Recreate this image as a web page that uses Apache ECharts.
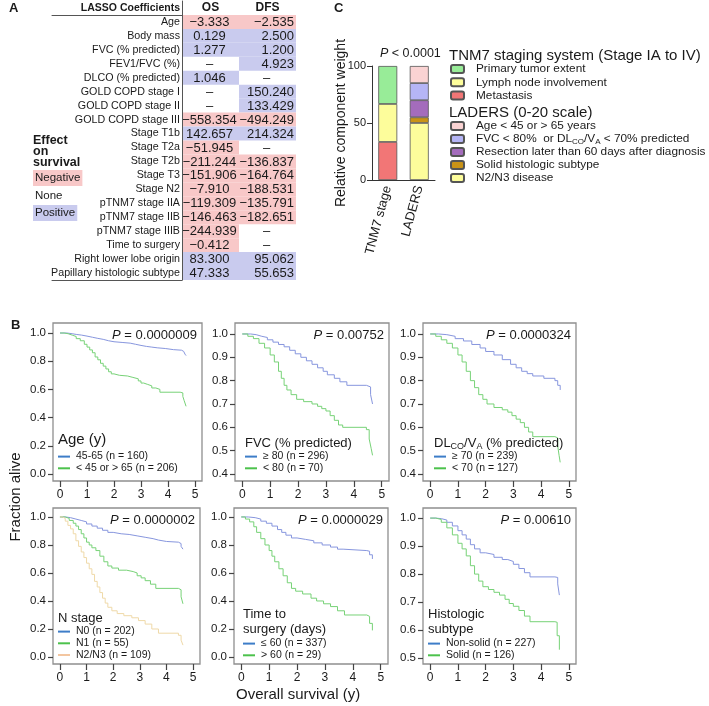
<!DOCTYPE html>
<html><head><meta charset="utf-8">
<script src="https://cdn.jsdelivr.net/npm/echarts@6/dist/echarts.min.js"></script>
<style>html,body{margin:0;padding:0;background:#fff}#c{width:709px;height:706px}</style>
</head><body><div id="c"></div>
<script>
// ===== Panel A data =====
const rowNames = ['Age','Body mass','FVC (% predicted)','FEV1/FVC (%)','DLCO (% predicted)','GOLD COPD stage I','GOLD COPD stage II','GOLD COPD stage III','Stage T1b','Stage T2a','Stage T2b','Stage T3','Stage N2','pTNM7 stage IIA','pTNM7 stage IIB','pTNM7 stage IIIB','Time to surgery','Right lower lobe origin','Papillary histologic subtype'];
const coefColumns = ['OS','DFS'];
const osCoef = [-3.333,0.129,1.277,null,1.046,null,null,-558.354,142.657,-51.945,-211.244,-151.906,-7.910,-119.309,-146.463,-244.939,-0.412,83.300,47.333];
const dfsCoef = [-2.535,2.500,1.200,4.923,null,150.240,133.429,-494.249,214.324,null,-136.837,-164.764,-188.531,-135.791,-182.651,null,null,95.062,55.653];

// ===== Panel C data =====
const stagingSystems = ['TNM7 stage','LADERS'];
const tnmComponents = ['Primary tumor extent','Lymph node involvement','Metastasis'];
const tnmWeights = [33.3,33.3,33.4];
const ladersComponents = ['Age < 45 or > 65 years','FVC < 80%  or DLCO/VA < 70% predicted','Resection later than 60 days after diagnosis','Solid histologic subtype','N2/N3 disease'];
const ladersWeights = [15,15,15,5,50];

// ===== Panel B data (Kaplan-Meier steps: [years, fraction alive]) =====
const ageBlue = [[0,1],[0.25,0.995],[0.45,0.99],[0.6,0.985],[0.8,0.978],[1.0,0.97],[1.2,0.962],[1.4,0.955],[1.6,0.945],[1.8,0.938],[2.0,0.933],[2.3,0.928],[2.6,0.92],[2.8,0.912],[3.0,0.905],[3.2,0.9],[3.4,0.895],[3.6,0.89],[3.9,0.882],[4.2,0.878],[4.5,0.87],[4.58,0.86],[4.63,0.85],[4.67,0.84]];
const ageGreen = [[0,1],[0.15,0.995],[0.3,0.985],[0.45,0.975],[0.6,0.96],[0.75,0.945],[0.9,0.92],[1.0,0.9],[1.1,0.88],[1.2,0.86],[1.3,0.83],[1.4,0.81],[1.5,0.785],[1.6,0.765],[1.7,0.745],[1.8,0.725],[1.9,0.71],[2.0,0.7],[2.2,0.695],[2.5,0.685],[2.7,0.675],[2.9,0.66],[3.0,0.645],[3.1,0.635],[3.25,0.625],[3.4,0.61],[3.55,0.6],[3.7,0.58],[4.45,0.575],[4.55,0.55],[4.6,0.52],[4.67,0.48]];
const fvcBlue = [[0,1],[0.3,0.997],[0.5,0.99],[0.7,0.985],[0.9,0.975],[1.1,0.965],[1.3,0.955],[1.5,0.945],[1.7,0.93],[1.9,0.915],[2.1,0.9],[2.3,0.885],[2.5,0.87],[2.7,0.855],[2.9,0.84],[3.05,0.825],[3.3,0.81],[3.5,0.795],[3.75,0.78],[4.45,0.773],[4.6,0.74],[4.67,0.7]];
const fvcGreen = [[0,1],[0.2,0.99],[0.4,0.98],[0.6,0.96],[0.8,0.94],[1.0,0.91],[1.15,0.88],[1.3,0.84],[1.4,0.81],[1.5,0.78],[1.6,0.76],[1.75,0.74],[1.95,0.72],[2.2,0.71],[2.5,0.7],[2.7,0.69],[2.85,0.68],[3.0,0.67],[3.15,0.65],[3.3,0.63],[3.45,0.61],[3.6,0.6],[4.45,0.59],[4.55,0.55],[4.62,0.51],[4.67,0.48]];
const dlcoBlue = [[0,1],[0.3,0.997],[0.6,0.99],[0.9,0.98],[1.2,0.97],[1.5,0.955],[1.8,0.94],[2.0,0.925],[2.3,0.91],[2.6,0.89],[2.9,0.87],[3.1,0.855],[3.3,0.84],[3.5,0.83],[3.7,0.82],[4.1,0.81],[4.5,0.8],[4.6,0.78],[4.69,0.76]];
const dlcoGreen = [[0,1],[0.2,0.99],[0.4,0.975],[0.6,0.96],[0.8,0.94],[1.0,0.91],[1.15,0.88],[1.3,0.84],[1.45,0.8],[1.6,0.77],[1.75,0.74],[1.9,0.72],[2.05,0.7],[2.3,0.685],[2.6,0.675],[2.8,0.665],[2.95,0.65],[3.1,0.635],[3.25,0.62],[3.4,0.6],[3.55,0.58],[3.7,0.56],[4.5,0.555],[4.6,0.52],[4.65,0.48],[4.69,0.45]];
const n0Curve = [[0,1],[0.2,0.995],[0.4,0.985],[0.6,0.975],[0.8,0.965],[1.0,0.95],[1.2,0.935],[1.4,0.92],[1.6,0.905],[1.8,0.89],[2.0,0.88],[2.3,0.875],[2.6,0.865],[2.9,0.855],[3.2,0.845],[3.5,0.835],[3.7,0.825],[4.0,0.82],[4.45,0.81],[4.55,0.79],[4.62,0.77]];
const n1Curve = [[0,1],[0.2,0.99],[0.35,0.975],[0.5,0.955],[0.6,0.935],[0.7,0.91],[0.8,0.88],[0.9,0.85],[1.0,0.82],[1.1,0.8],[1.2,0.78],[1.35,0.76],[1.5,0.72],[1.65,0.68],[1.8,0.65],[1.95,0.635],[2.2,0.62],[2.5,0.61],[2.75,0.6],[2.9,0.58],[3.05,0.565],[3.2,0.545],[3.4,0.52],[3.6,0.49],[4.45,0.48],[4.55,0.43],[4.62,0.38]];
const n23Curve = [[0,1],[0.1,0.99],[0.2,0.97],[0.3,0.94],[0.4,0.915],[0.5,0.88],[0.6,0.83],[0.7,0.79],[0.8,0.75],[0.9,0.71],[1.0,0.67],[1.1,0.63],[1.2,0.59],[1.3,0.54],[1.4,0.5],[1.5,0.46],[1.6,0.42],[1.7,0.385],[1.8,0.355],[1.95,0.33],[2.15,0.31],[2.4,0.295],[2.7,0.28],[2.95,0.26],[3.2,0.235],[3.45,0.2],[3.7,0.17],[4.45,0.155],[4.55,0.12],[4.62,0.085]];
const surgeryBlue = [[0,1],[0.25,0.995],[0.5,0.985],[0.7,0.97],[0.9,0.955],[1.1,0.935],[1.3,0.91],[1.45,0.89],[1.6,0.87],[1.8,0.85],[2.0,0.84],[2.3,0.83],[2.6,0.815],[2.9,0.8],[3.2,0.785],[3.45,0.77],[3.65,0.76],[4.5,0.755],[4.6,0.73],[4.7,0.7]];
const surgeryGreen = [[0,1],[0.15,0.985],[0.3,0.965],[0.45,0.93],[0.55,0.89],[0.7,0.845],[0.85,0.8],[1.0,0.76],[1.1,0.72],[1.2,0.68],[1.35,0.63],[1.5,0.58],[1.65,0.53],[1.8,0.49],[1.95,0.47],[2.2,0.45],[2.5,0.42],[2.7,0.4],[2.95,0.38],[3.2,0.36],[3.45,0.33],[3.7,0.3],[4.5,0.29],[4.6,0.24],[4.7,0.19]];
const histoBlue = [[0,1],[0.2,0.998],[0.4,0.993],[0.6,0.985],[0.8,0.972],[1.0,0.955],[1.15,0.94],[1.3,0.925],[1.45,0.905],[1.6,0.89],[1.8,0.876],[2.0,0.87],[2.3,0.86],[2.6,0.852],[2.8,0.845],[3.0,0.835],[3.2,0.82],[3.4,0.805],[3.6,0.79],[4.5,0.788],[4.6,0.765],[4.66,0.725]];
const histoGreen = [[0,1],[0.2,0.995],[0.4,0.985],[0.6,0.965],[0.8,0.94],[1.0,0.91],[1.15,0.89],[1.3,0.865],[1.45,0.83],[1.6,0.8],[1.75,0.775],[1.9,0.755],[2.1,0.745],[2.3,0.735],[2.5,0.725],[2.7,0.71],[2.85,0.695],[3.0,0.685],[3.2,0.67],[3.4,0.65],[3.6,0.63],[4.5,0.628],[4.58,0.58],[4.66,0.53]];

const xTickValues = [0,1,2,3,4,5];
const yTicksFull = [0,0.2,0.4,0.6,0.8,1.0];
const yTicksFrom04 = [0.4,0.5,0.6,0.7,0.8,0.9,1.0];
const yTicksFrom05 = [0.5,0.6,0.7,0.8,0.9,1.0];
const pValues = ['0.0000009','0.00752','0.0000324','0.0000002','0.0000029','0.00610'];

const kmPanels = [
  {heading:'Age (y)', curves:[['45-65 (n = 160)', ageBlue,'b'],['< 45 or > 65 (n = 206)', ageGreen,'g']], yTicks:yTicksFull},
  {heading:'FVC (% predicted)', curves:[['\u2265 80 (n = 296)', fvcBlue,'b'],['< 80 (n = 70)', fvcGreen,'g']], yTicks:yTicksFrom04},
  {heading:'{n|DL}{s|CO}{n|/V}{s|A}{n| (% predicted)}', curves:[['\u2265 70 (n = 239)', dlcoBlue,'b'],['< 70 (n = 127)', dlcoGreen,'g']], yTicks:yTicksFrom04},
  {heading:'N stage', curves:[['N0 (n = 202)', n0Curve,'b'],['N1 (n = 55)', n1Curve,'g'],['N2/N3 (n = 109)', n23Curve,'t']], yTicks:yTicksFull},
  {heading:'Time to\nsurgery (days)', curves:[['\u2264 60 (n = 337)', surgeryBlue,'b'],['> 60 (n = 29)', surgeryGreen,'g']], yTicks:yTicksFull},
  {heading:'Histologic\nsubtype', curves:[['Non-solid (n = 227)', histoBlue,'b'],['Solid (n = 126)', histoGreen,'g']], yTicks:yTicksFrom05}
];

// ===== layout & styles =====
const FONT = "'Liberation Sans', Arial, Helvetica, sans-serif";
const TXT = '#1a1a1a';
const NEG = '#f8c8c8', POS = '#c9cbee';
const curveColor = {b:'#8796de', g:'#77d277', t:'#efd9a8'};
const iconColor = {b:'#3d7dc8', g:'#4cc24c', t:'#f3c6a0'};
const tnmColors = ['#98ec98','#fdfd9b','#f27676'];
const ladersColors = ['#fad3d3','#b5b5f5','#a46cbc','#c99317','#fdfd9b'];

const kmLayout = [
  {l:53, r:202, t:323, b:481, ymin:-0.05, ymax:1.071, hx:58, hy:432, hs:15, lx:58, ly:451},
  {l:235, r:389, t:323, b:481, ymin:0.37, ymax:1.047, hx:245, hy:436, hs:13, lx:245, ly:451},
  {l:423, r:576, t:323, b:481, ymin:0.37, ymax:1.047, hx:434, hy:436, hs:13, lx:434, ly:451},
  {l:53, r:200, t:508, b:664, ymin:-0.05, ymax:1.064, hx:58, hy:611, hs:13, lx:58, ly:626},
  {l:234, r:388, t:508, b:664, ymin:-0.05, ymax:1.064, hx:243, hy:607, hs:13, lx:243, ly:638},
  {l:423, r:576, t:508, b:664, ymin:0.479, ymax:1.036, hx:428, hy:607, hs:13, lx:428, ly:638}
];

const grid=[], xAxis=[], yAxis=[], series=[], legend=[], title=[];

// ----- Panel A table -----
grid.push({left:182, top:1, width:114, height:279});
xAxis.push({gridIndex:0, type:'category', data:coefColumns, show:false});
yAxis.push({gridIndex:0, type:'category', inverse:true, z:5, data:['LASSO Coefficients'].concat(rowNames),
  axisLine:{show:true, lineStyle:{color:'#555', width:1}}, axisTick:{show:false},
  axisLabel:{interval:0, margin:2, fontSize:10.7, color:TXT, fontFamily:FONT,
    formatter:(v,i)=> i===0 ? '{b|'+v+'}' : v,
    rich:{b:{fontWeight:'bold', fontSize:10.5, fontFamily:FONT, color:TXT}}}});
const cellInfo = [];
coefColumns.forEach((c,ci)=>cellInfo.push({value:[ci,0], header:c}));
rowNames.forEach((r,i)=>{
  cellInfo.push({value:[0,i+1], coef:osCoef[i]});
  cellInfo.push({value:[1,i+1], coef:dfsCoef[i]});
});
series.push({type:'custom', xAxisIndex:0, yAxisIndex:0, data:cellInfo.map(c=>c.value), z:2,
  renderItem:(params, api)=>{
    const info = cellInfo[params.dataIndex];
    const c = api.coord([api.value(0), api.value(1)]);
    const s = api.size([1,1]);
    const x0 = c[0]-s[0]/2, y0 = c[1]-s[1]/2;
    const children = [];
    if (info.header) {
      children.push({type:'text', style:{text:info.header, x:c[0], y:c[1], align:'center', verticalAlign:'middle', fontSize:12, fontWeight:'bold', fontFamily:FONT, fill:TXT}});
      return {type:'group', children};
    }
    const v = info.coef;
    if (v !== null) children.push({type:'rect', shape:{x:x0, y:y0, width:s[0], height:s[1]}, style:{fill: v<0 ? NEG : POS}});
    const txt = v===null ? '\u2013' : (v<0 ? '\u2212'+Math.abs(v).toFixed(3) : v.toFixed(3));
    let tx = c[0]-1, al='center';
    if (v!==null && api.value(0)===1) { tx = x0+s[0]-2; al='right'; }
    children.push({type:'text', style:{text:txt, x:tx, y:c[1]+0.5, align:al, verticalAlign:'middle', fontSize:13, fontFamily:FONT, fill:TXT}});
    return {type:'group', children};
  }});

// label column rules
grid.push({left:52, top:15, width:130, height:265});
const ruleAxis = pos => ({gridIndex:1, type:'value', position:pos, min:0, max:1,
  axisLine:{show:true, onZero:false, lineStyle:{color:'#555', width:1}}, axisTick:{show:false}, axisLabel:{show:false}, splitLine:{show:false}});
xAxis.push(ruleAxis('top'));
xAxis.push(ruleAxis('bottom'));
yAxis.push({gridIndex:1, type:'value', min:0, max:1, show:false});

// ----- Panel C bars -----
grid.push({left:372, top:66, width:63, height:114});
const cX = xAxis.length, cY = yAxis.length;
xAxis.push({gridIndex:2, type:'category', data:stagingSystems,
  axisLine:{onZero:false, lineStyle:{color:'#333'}}, axisTick:{alignWithLabel:true, length:5, lineStyle:{color:'#333'}},
  axisLabel:{rotate:75, fontSize:13, color:TXT, fontFamily:FONT, margin:6}});
yAxis.push({gridIndex:2, type:'value', min:0, max:100, interval:50,
  name:'Relative component weight', nameLocation:'middle', nameGap:24, nameMoveOverlap:false,
  nameTextStyle:{fontSize:14, color:TXT, fontFamily:FONT},
  axisLine:{show:true, onZero:false, lineStyle:{color:'#333'}}, axisTick:{show:true, length:5, lineStyle:{color:'#333'}},
  axisLabel:{fontSize:11, color:TXT, fontFamily:FONT, margin:6}, splitLine:{show:false}});
const barStyle = c => ({color:c, borderColor:'#555', borderWidth:0.8});
for (let i=tnmComponents.length-1;i>=0;i--) {
  series.push({type:'bar', name:tnmComponents[i], xAxisIndex:cX, yAxisIndex:cY, stack:'w', barWidth:19,
    itemStyle:barStyle(tnmColors[i]), data:[tnmWeights[i],'-']});
}
for (let i=ladersComponents.length-1;i>=0;i--) {
  series.push({type:'bar', name:ladersComponents[i], xAxisIndex:cX, yAxisIndex:cY, stack:'w', barWidth:19,
    itemStyle:barStyle(ladersColors[i]), data:['-',ladersWeights[i]]});
}
const legendTextC = {fontSize:11.8, color:TXT, fontFamily:FONT, lineHeight:13, padding:[0,0,0,7],
  rich:{n:{fontSize:11.8, fontFamily:FONT, color:TXT}, s:{fontSize:8, fontFamily:FONT, color:TXT, padding:[5,0,0,0]}}};
legend.push({orient:'vertical', left:450, top:62.5, padding:0, itemWidth:13, itemHeight:8, itemGap:0.3, selectedMode:false,
  data:tnmComponents, textStyle:legendTextC});
legend.push({orient:'vertical', left:450, top:119.5, padding:0, itemWidth:13, itemHeight:8, itemGap:0, selectedMode:false,
  data:ladersComponents, textStyle:legendTextC,
  formatter:n => n.indexOf('DLCO/VA')>=0 ? '{n|FVC < 80%  or DL}{s|CO}{n|/V}{s|A}{n| < 70% predicted}' : n});
title.push({text:'TNM7 staging system (Stage IA to IV)', left:449, top:48, padding:0, textStyle:{fontSize:15, fontWeight:'normal', color:TXT, fontFamily:FONT}});
title.push({text:'LADERS (0-20 scale)', left:449, top:105, padding:0, textStyle:{fontSize:15, fontWeight:'normal', color:TXT, fontFamily:FONT}});
title.push({text:'{i|P} < 0.0001', left:380, top:47, padding:0, textStyle:{fontSize:12.5, fontWeight:'normal', color:TXT, fontFamily:FONT,
  rich:{i:{fontStyle:'italic', fontSize:12.5, fontFamily:FONT, color:TXT}}}});

// ----- Panel B KM plots -----
kmPanels.forEach((p, k)=>{
  const L = kmLayout[k];
  const gi = grid.length;
  grid.push({left:L.l, top:L.t, width:L.r-L.l, height:L.b-L.t, show:true, borderColor:'#8f8f8f', borderWidth:1.3});
  const xi = xAxis.length, yi = yAxis.length;
  xAxis.push({gridIndex:gi, type:'value', min:-0.26, max:5.26,
    axisLine:{show:false, onZero:false}, splitLine:{show:false},
    axisTick:{show:true, customValues:xTickValues, length:6, lineStyle:{color:'#444', width:1.2}},
    axisLabel:{customValues:xTickValues, fontSize:12, color:TXT, fontFamily:FONT, margin:8}});
  yAxis.push({gridIndex:gi, type:'value', min:L.ymin, max:L.ymax,
    axisLine:{show:false, onZero:false}, splitLine:{show:false},
    axisTick:{show:true, customValues:p.yTicks, length:5, lineStyle:{color:'#444', width:1.2}},
    axisLabel:{customValues:p.yTicks, fontSize:11.5, color:TXT, fontFamily:FONT, margin:7, formatter:v=>v.toFixed(1)}});
  p.curves.forEach(cv=>{
    series.push({type:'line', name:cv[0], xAxisIndex:xi, yAxisIndex:yi, data:cv[1], step:'end', symbol:'none',
      lineStyle:{width:1, color:curveColor[cv[2]]}, itemStyle:{color:curveColor[cv[2]]}, z:3});
  });
  legend.push({orient:'vertical', left:L.lx, top:L.ly, icon:'rect', itemWidth:12, itemHeight:2, itemGap:0.5, selectedMode:false, padding:0,
    data:p.curves.map(cv=>({name:cv[0], itemStyle:{color:iconColor[cv[2]]}})),
    textStyle:{fontSize:10.5, lineHeight:11.2, color:TXT, fontFamily:FONT, padding:[0,0,0,1]}});
  title.push({text:p.heading, left:L.hx, top:L.hy, padding:0,
    textStyle:{fontSize:L.hs, fontWeight:'normal', color:TXT, fontFamily:FONT, lineHeight:15,
      rich:{n:{fontSize:L.hs, fontFamily:FONT, color:TXT}, s:{fontSize:9, fontFamily:FONT, color:TXT, padding:[6,0,0,0]}}}});
  title.push({text:'{i|P} = '+pValues[k], right:709-(L.r-5), top:L.t+6, padding:0,
    textStyle:{fontSize:13, fontWeight:'normal', color:TXT, fontFamily:FONT,
      rich:{i:{fontStyle:'italic', fontSize:13, fontFamily:FONT, color:TXT}}}});
});

// ----- panel letters & misc text -----
const letter = (t,l,tp)=>({text:t, left:l, top:tp, padding:0, textStyle:{fontSize:13, fontWeight:'bold', color:TXT, fontFamily:FONT}});
title.push(letter('A',9,2), letter('B',11,319), letter('C',334,2));
title.push({text:'Effect\non\nsurvival', left:33, top:135, padding:0, textStyle:{fontSize:12.5, fontWeight:'bold', lineHeight:11, color:TXT, fontFamily:FONT}});
title.push({text:'Negative', left:33, top:170, padding:[2,2,2,2], backgroundColor:NEG, textStyle:{fontSize:11.5, fontWeight:'normal', color:TXT, fontFamily:FONT, width:43, height:13}});
title.push({text:'None', left:35, top:190, padding:0, textStyle:{fontSize:11.5, fontWeight:'normal', color:TXT, fontFamily:FONT}});
title.push({text:'Positive', left:33, top:205, padding:[2,2,2,2], backgroundColor:POS, textStyle:{fontSize:11.5, fontWeight:'normal', color:TXT, fontFamily:FONT, width:43, height:13}});
title.push({text:'Overall survival (y)', left:236, top:687, padding:0, textStyle:{fontSize:15, fontWeight:'normal', color:TXT, fontFamily:FONT}});

const chart = echarts.init(document.getElementById('c'), null, {renderer:'canvas', width:709, height:706});
chart.setOption({
  animation:false,
  backgroundColor:'#fff',
  textStyle:{fontFamily:FONT},
  grid, xAxis, yAxis, series, legend, title,
  graphic:[{type:'text', x:16, y:497, rotation:Math.PI/2,
    style:{text:'Fraction alive', fontSize:15, fontFamily:FONT, fill:TXT, align:'center', verticalAlign:'middle'}}]
});
</script></body></html>
